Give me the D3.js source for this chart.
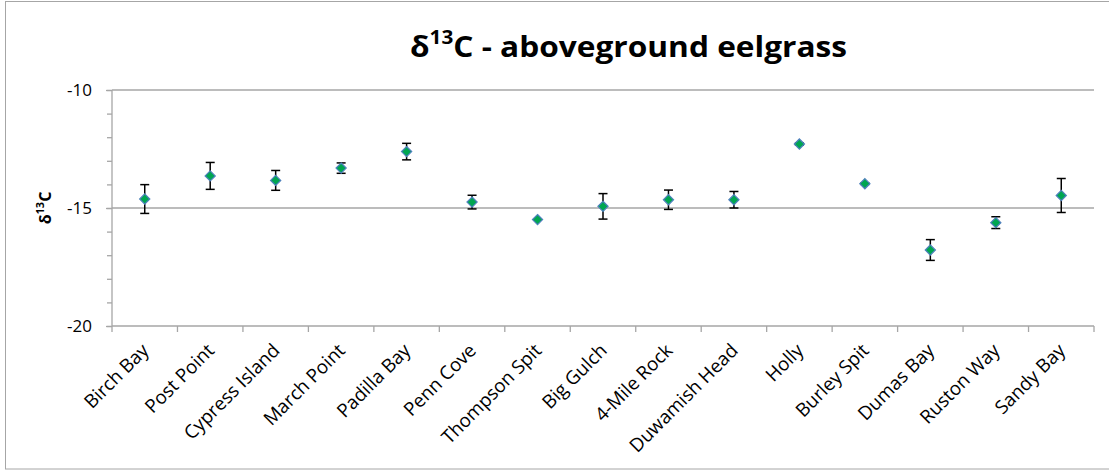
<!DOCTYPE html>
<html>
<head>
<meta charset="utf-8">
<script src="https://cdn.jsdelivr.net/npm/d3@7"></script>
<style>
  html, body { margin: 0; padding: 0; background: #fff; }
  svg { display: block; }
  text { font-family: "Open Sans", Lato, sans-serif; fill: #000; }
</style>
</head>
<body>
<svg id="chart" width="1109" height="470"></svg>
<script>
// Sites sampled, mean δ13C of aboveground eelgrass and its error (±)
const sites = ["Birch Bay", "Post Point", "Cypress Island", "March Point", "Padilla Bay",
  "Penn Cove", "Thompson Spit", "Big Gulch", "4-Mile Rock", "Duwamish Head",
  "Holly", "Burley Spit", "Dumas Bay", "Ruston Way", "Sandy Bay"];
const meanD13C = [-14.62, -13.64, -13.83, -13.31, -12.61,
  -14.75, -15.49, -14.93, -14.65, -14.65,
  -12.29, -13.97, -16.78, -15.62, -14.47];
const errD13C = [0.61, 0.57, 0.42, 0.22, 0.35,
  0.29, 0.02, 0.54, 0.41, 0.35,
  0.05, 0.03, 0.44, 0.25, 0.72];
const yMajorTicks = [-20, -15, -10];
const yMinorTicks = d3.range(-20, -9, 1);

const W = 1109, H = 470;
const plot = { left: 112, right: 1094, top: 90, bottom: 326 };
const gridColor = "#a6a6a6";

const svg = d3.select("#chart");

// outer chart frame
svg.append("rect")
  .attr("x", 5.5).attr("y", 1.5)
  .attr("width", W + 4).attr("height", H - 2.5)
  .attr("fill", "#fff").attr("stroke", "#a6a6a6").attr("stroke-width", 1);

const x = d3.scaleBand().domain(sites).range([plot.left, plot.right]);
const y = d3.scaleLinear().domain([-20, -10]).range([plot.bottom, plot.top]);

// horizontal gridlines
svg.append("g").selectAll("line")
  .data(yMajorTicks.filter(v => v !== -20))
  .join("line")
  .attr("x1", plot.left).attr("x2", plot.right)
  .attr("y1", d => y(d)).attr("y2", d => y(d))
  .attr("stroke", gridColor).attr("stroke-width", 1.3);

// y-axis minor ticks
svg.append("g")
  .attr("transform", `translate(${plot.left},0)`)
  .call(d3.axisLeft(y).tickValues(yMinorTicks).tickSize(5).tickFormat(""))
  .call(g => g.select(".domain").remove())
  .call(g => g.selectAll("line").attr("stroke", gridColor).attr("stroke-width", 1.3));

// y-axis with major labels
svg.append("g")
  .attr("transform", `translate(${plot.left},0)`)
  .call(d3.axisLeft(y).tickValues(yMajorTicks).tickSize(6).tickPadding(14).tickFormat(d3.format("d")))
  .call(g => g.select(".domain").attr("stroke", gridColor).attr("stroke-width", 1.3)
    .attr("d", `M0,${plot.top}V${plot.bottom}`))
  .call(g => g.selectAll("line").attr("stroke", gridColor).attr("stroke-width", 1.3))
  .call(g => g.selectAll("text").attr("font-size", 17).attr("fill", "#000")
    .attr("font-family", "'Open Sans', Lato, sans-serif").text(d => d < 0 ? "-" + Math.abs(d) : d));

// x-axis: ticks at category boundaries
const boundaries = sites.map(s => x(s)).concat([x(sites[sites.length - 1]) + x.bandwidth()]);
const xg = svg.append("g");
xg.append("line")
  .attr("x1", plot.left).attr("x2", plot.right)
  .attr("y1", plot.bottom).attr("y2", plot.bottom)
  .attr("stroke", gridColor).attr("stroke-width", 1.3);
xg.selectAll("line.tick").data(boundaries).join("line")
  .attr("class", "tick")
  .attr("x1", d => d).attr("x2", d => d)
  .attr("y1", plot.bottom).attr("y2", plot.bottom + 6)
  .attr("stroke", gridColor).attr("stroke-width", 1.3);

// rotated category labels
xg.selectAll("text").data(sites).join("text")
  .attr("transform", d => `translate(${x(d) + x.bandwidth() / 2 + 0.5},${plot.bottom + 21}) rotate(-45)`)
  .attr("text-anchor", "end")
  .attr("dy", "0.35em")
  .attr("font-size", 18.8)
  .text(d => d);

// error bars
const cx = d => x(d) + x.bandwidth() / 2;
const pts = sites.map((s, i) => ({ site: s, v: meanD13C[i], e: errD13C[i] }));
const eb = svg.append("g").attr("stroke", "#000").attr("stroke-width", 1.5);
eb.selectAll("line.stem").data(pts).join("line")
  .attr("class", "stem")
  .attr("x1", d => cx(d.site)).attr("x2", d => cx(d.site))
  .attr("y1", d => y(d.v + d.e)).attr("y2", d => y(d.v - d.e));
eb.selectAll("line.capTop").data(pts).join("line")
  .attr("class", "capTop")
  .attr("x1", d => cx(d.site) - 4.5).attr("x2", d => cx(d.site) + 4.5)
  .attr("y1", d => y(d.v + d.e)).attr("y2", d => y(d.v + d.e));
eb.selectAll("line.capBot").data(pts).join("line")
  .attr("class", "capBot")
  .attr("x1", d => cx(d.site) - 4.5).attr("x2", d => cx(d.site) + 4.5)
  .attr("y1", d => y(d.v - d.e)).attr("y2", d => y(d.v - d.e));

// diamond markers
const diamond = d3.symbol().type(d3.symbolDiamond2).size(66);
svg.append("g").selectAll("path").data(pts).join("path")
  .attr("transform", d => `translate(${cx(d.site)},${y(d.v)})`)
  .attr("d", diamond)
  .attr("fill", "#00a651")
  .attr("stroke", "#4f81bd")
  .attr("stroke-width", 1.2);

// y-axis title
svg.append("text")
  .attr("transform", `translate(51,${(plot.top + plot.bottom) / 2}) rotate(-90)`)
  .attr("text-anchor", "middle")
  .attr("font-size", 16).attr("font-weight", "bold")
  .html('δ<tspan baseline-shift="super" font-size="11">13</tspan>C');

// chart title
svg.append("text")
  .attr("x", 410).attr("y", 57)
  .attr("textLength", 437).attr("lengthAdjust", "spacingAndGlyphs")
  .attr("font-size", 29).attr("font-weight", "bold")
  .html('δ<tspan baseline-shift="super" font-size="19">13</tspan>C - aboveground eelgrass');
</script>
</body>
</html>
